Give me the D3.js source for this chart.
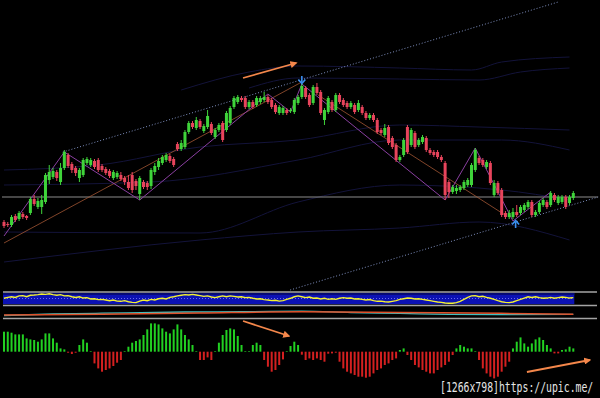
<!DOCTYPE html>
<html><head><meta charset="utf-8">
<script src="https://cdn.jsdelivr.net/npm/d3@7"></script>
<style>html,body{margin:0;padding:0;background:#000;overflow:hidden}</style>
</head><body>
<svg id="c" width="600" height="398"></svg>
<script>
// ---------- DATA ----------
// candles: [open, high, low, close]
const candles = [
[178,180,172,174],[176,178,173,175],[175,185,173,183],[184,186,178,180],[181,189,179,187],
[186,188,181,183],[184,185,180,182],[187,203,185,201],[201,205,194,196],[193,202,191,199],
[193,205,186,200],[198,227,196,225],[220,235,216,228],[223,232,221,229],[228,230,219,222],
[218,237,215,232],[232,250,230,248],[245,247,232,234],[236,238,227,230],[232,234,224,227],
[222,232,218,230],[225,242,223,240],[237,243,235,241],[235,242,233,240],[239,241,231,233],
[240,242,228,230],[234,236,228,230],[231,233,225,227],[229,231,222,224],[222,230,220,228],
[223,229,221,227],[225,228,219,221],[222,224,215,218],[218,225,210,212],[225,228,207,210],
[219,221,210,214],[206,224,200,222],[218,220,211,213],[217,219,210,213],[214,232,211,230],
[228,237,225,234],[233,242,230,239],[237,245,235,243],[240,247,238,245],[244,246,237,239],
[241,243,233,235],[256,258,249,251],[251,260,249,257],[253,270,251,268],[268,279,266,277],
[277,279,271,273],[272,283,270,280],[279,281,271,273],[269,276,267,274],[273,290,271,284],
[276,278,265,267],[263,272,261,270],[270,277,268,275],[277,279,258,260],[270,289,268,287],
[277,294,275,292],[293,304,291,302],[298,305,296,303],[302,304,298,300],[302,304,291,293],
[293,300,291,298],[298,300,291,293],[295,304,293,302],[298,304,296,302],[300,308,298,303],
[303,305,296,298],[300,302,291,293],[295,297,286,288],[287,295,285,293],[287,294,285,292],
[290,292,285,287],[289,292,287,290],[288,302,286,300],[297,305,295,303],[303,316,301,314],
[312,314,301,303],[305,307,293,295],[297,315,295,313],[313,317,305,307],[308,310,285,287],
[280,292,275,290],[288,304,286,302],[298,300,288,290],[290,307,288,305],[305,307,296,298],
[300,302,293,295],[297,299,291,293],[293,299,291,297],[295,297,286,288],[290,300,288,297],
[293,295,285,287],[287,289,280,282],[282,287,280,285],[285,287,278,280],[280,282,266,268],
[270,272,265,267],[265,276,263,272],[273,275,255,257],[262,264,251,253],[255,257,238,240],
[240,245,238,243],[245,262,243,260],[273,275,246,248],[255,272,253,270],[267,269,251,253],
[255,262,253,260],[258,265,256,263],[262,264,248,250],[250,252,245,247],[248,250,243,245],
[248,250,241,243],[243,245,238,240],[237,239,200,205],[218,220,202,208],[208,215,206,213],
[209,215,206,212],[210,215,208,213],[212,220,210,218],[215,222,213,220],[215,237,213,235],
[230,252,228,250],[242,244,235,237],[240,242,233,235],[233,240,231,238],[237,239,215,217],
[205,220,203,217],[217,219,205,207],[210,212,183,185],[187,189,181,183],[183,190,181,187],
[183,192,181,188],[188,195,183,185],[187,195,185,193],[190,197,188,195],[193,200,191,198],
[198,200,183,185],[185,190,183,188],[188,199,186,197],[195,202,193,200],[198,200,191,193],
[195,209,193,207],[205,207,198,200],[197,205,195,203],[198,205,196,203],[203,205,191,193],
[197,205,195,203],[202,209,200,207]
];

// oscillator histogram (one per candle)
const hist = [
20,20,19,17.3,17.3,17.3,13.3,12.3,11.7,10,12.3,18.3,18.3,13.3,9,3.3,2.3,-1,-2.3,-1,
6.7,12.3,9,0.3,-11.7,-16.7,-20,-18.3,-16.7,-14.3,-11,-8.3,0.3,5,9,10.7,12.3,16.7,22.3,28.3,
28.3,27.3,23.3,20,18.3,22.3,27.3,22.3,16.7,12.3,6.7,0.3,-8.3,-8.3,-5.7,-8.3,0.3,9,16.7,21.7,
23.3,22.3,15.7,6.7,0.5,0.3,6.7,9,6.7,-8.3,-15,-20,-18.3,-13.3,-7.7,0.3,5.7,10,6.7,-3,
-8.3,-6.7,-8.3,-6.7,-8.3,-10,-2,-1.7,-1,-10,-16.7,-20,-21.7,-23.3,-25,-25,-26,-25,-21.7,-18.3,
-16.7,-13.3,-11.7,-8.3,-6.7,1.7,3.3,-3.3,-8.3,-13.3,-15.7,-18.3,-20,-21.7,-21.7,-18.3,-15.7,-13.3,-10,-3.3,
3.3,6.7,5,3.3,3.3,0.3,-8.3,-16.7,-21.7,-25,-26.7,-25,-20,-15,-10,3.3,10,14.3,8.3,5,
8.3,12.3,14.3,11.7,6.7,3.3,-1.7,-1.7,1.7,2.3,5,3.3
];

// RSI-like line in the first sub panel
const rsi = [
51,55,58,55,62,63,58,65,66,68,71,69,72,68,65,68,62,63,58,55,
58,52,54,48,49,45,46,43,40,43,38,37,40,35,32,31,38,43,40,46,
43,49,51,48,55,58,62,65,68,66,69,66,63,60,62,57,54,58,62,58,
62,60,57,58,54,55,51,48,49,45,43,40,42,38,40,46,51,58,62,58,
54,57,51,52,48,51,46,49,46,51,54,51,52,48,49,46,43,45,40,37,
38,35,34,37,40,46,49,52,51,48,49,46,43,40,37,34,32,29,28,28,
31,37,46,55,62,63,58,60,55,51,46,40,35,32,31,34,40,46,52,58,
55,58,54,51,52,55,51,54,57,55,52,54
];

// second sub panel lines: [candle index, value]
const signalOrange = [[0,3],[26,3.7],[52,5],[79,6.2],[105,5.5],[132,4.7],[151,3.8]];
const signalCyan = [[0,2.5],[13,4],[26,4.8],[48,6],[63,6.3],[79,6.8],[92,5.5],[105,4.6],[118,3.6],[132,3.3],[151,3.7]];

// zigzag pivots [index, price]
const zigzag = [[0,164],[16,248],[36,200],[70,306],[76,288],[79,316],[117,200],[125,252],[135,179],[145,208]];
// orange trend lines
const trendA = [[0,157],[78.5,317]];
const trendB = [[83.3,305],[132.9,185]];
// dotted channel
const channelUpper = [[15.6,248],[147,398]];
const channelLower = [[75.9,110],[157.6,203]];
const levelPrice = 203;
// faint envelope lines [index, price]
const envelopes = [
 [[47,310],[65,328],[78,334],[105,332],[124,330],[132,338],[150,343]],
 [[65,312],[78,322],[105,321],[126,320],[137,328],[150,332]],
 [[0,230],[25,235],[52,253],[78,260],[105,275],[126,273],[150,270]],
 [[0,215],[39,218],[78,240],[105,260],[132,260],[150,250]],
 [[0,168],[52,167],[78,198],[105,215],[132,210],[150,200]],
 [[0,138],[52,160],[78,168],[105,172],[126,178],[150,160]]
];
// annotation arrows
const arrowTop = [[63.4,322],[77.5,337]];
const arrowHistA = [[63.4,30.7],[75.6,15.7]];
const arrowHistB = [[138.7,-20.3],[155.4,-8.3]];
const signalDown = {i:79};
const signalUp = {i:135.7};
const caption = "[1266x798]https://upic.me/";

// ---------- SCALES ----------
const svg = d3.select("#c");
svg.append("rect").attr("width",600).attr("height",398).attr("fill","#000");
const x = d3.scaleLinear().domain([0,151]).range([4,573.3]);
const y = d3.scaleLinear().domain([110,400]).range([290,0]);
const yR = d3.scaleLinear().domain([20,80]).range([305,292]);
const yS = d3.scaleLinear().domain([0,12]).range([318,306]);
const yH = d3.scaleLinear().domain([-30,30]).range([381.7,321.7]);

const defs = svg.append("defs");
defs.append("marker").attr("id","ah").attr("viewBox","0 0 10 10").attr("refX",8).attr("refY",5)
  .attr("markerWidth",4).attr("markerHeight",4).attr("orient","auto")
  .append("path").attr("d","M0,0L10,5L0,10z").attr("fill","#f4874b");

const line = (sy) => d3.line().x(d=>x(d[0])).y(d=>sy(d[1]));

// faint envelopes
envelopes.forEach(e=>{
  svg.append("path").attr("d",line(y).curve(d3.curveMonotoneX)(e))
    .attr("fill","none").attr("stroke","#13133a").attr("stroke-width",1);
});

// level line
svg.append("line").attr("x1",2).attr("x2",598).attr("y1",y(levelPrice)).attr("y2",y(levelPrice))
  .attr("stroke","#8c8c8c").attr("stroke-width",1.2);

// channel dotted
[channelUpper,channelLower].forEach(c=>{
  svg.append("path").attr("d",line(y)(c)).attr("fill","none")
    .attr("stroke","#7f8fbf").attr("stroke-width",1).attr("stroke-dasharray","1,2");
});

// orange trend lines
[trendA,trendB].forEach(t=>{
  svg.append("path").attr("d",line(y)(t)).attr("fill","none")
    .attr("stroke","#a85a36").attr("stroke-width",0.9).attr("opacity",0.85);
});
// zigzag
svg.append("path").attr("d",line(y)(zigzag)).attr("fill","none")
  .attr("stroke","#8a3fa0").attr("stroke-width",1);

// candles
const green="#3fd43a", red="#e8445c";
const cg = svg.append("g");
cg.selectAll("line").data(candles).join("line")
  .attr("x1",(d,i)=>x(i)).attr("x2",(d,i)=>x(i))
  .attr("y1",d=>y(d[1])).attr("y2",d=>y(d[2]))
  .attr("stroke",d=>d[3]>=d[0]?green:red).attr("stroke-width",1);
cg.selectAll("rect").data(candles).join("rect")
  .attr("x",(d,i)=>x(i)-1.5).attr("width",3)
  .attr("y",d=>y(Math.max(d[0],d[3])))
  .attr("height",d=>Math.max(1,Math.abs(y(d[0])-y(d[3]))))
  .attr("fill",d=>d[3]>=d[0]?green:red);

// orange arrows
[[arrowTop,y],[arrowHistA,yH],[arrowHistB,yH]].forEach(([a,sy])=>{
  svg.append("path").attr("d",line(sy)(a)).attr("fill","none")
    .attr("stroke","#f4874b").attr("stroke-width",1.8).attr("marker-end","url(#ah)");
});

// blue arrows
const blue="#3a90f0";
{
  const cx=x(signalDown.i), top=y(candles[signalDown.i][1])-8;
  svg.append("path").attr("d",`M${cx},${top}V${top+6}`).attr("stroke",blue).attr("stroke-width",1.6);
  svg.append("path").attr("d",`M${cx-3.5},${top+3.5}L${cx},${top+7.5}L${cx+3.5},${top+3.5}`).attr("stroke",blue).attr("stroke-width",1.6).attr("fill","none");
  const ux=x(signalUp.i), bot=y(candles[135][2])+9;
  svg.append("path").attr("d",`M${ux},${bot}V${bot-6}`).attr("stroke",blue).attr("stroke-width",1.6);
  svg.append("path").attr("d",`M${ux-3.5},${bot-3.5}L${ux},${bot-7.5}L${ux+3.5},${bot-3.5}`).attr("stroke",blue).attr("stroke-width",1.6).attr("fill","none");
}

// sub panel 1
svg.append("rect").attr("x",x(0)-1).attr("width",x(151)-x(0)+2)
  .attr("y",yR(76)).attr("height",yR(24)-yR(76)).attr("fill","#0c12b4");
svg.append("rect").attr("x",x(0)-1).attr("width",x(151)-x(0)+2)
  .attr("y",yR(76)).attr("height",2).attr("fill","#060a70");
svg.append("line").attr("x1",x(0)).attr("x2",x(151)).attr("y1",yR(50)).attr("y2",yR(50))
  .attr("stroke","#8080ff").attr("stroke-dasharray","1,2").attr("stroke-width",0.8);
svg.append("path").attr("d",d3.line().x((d,i)=>x(i)).y(d=>yR(d))(rsi))
  .attr("fill","none").attr("stroke","#f4f230").attr("stroke-width",1.4);

// sub panel 2
svg.append("path").attr("d",line(yS).curve(d3.curveMonotoneX)(signalCyan))
  .attr("fill","none").attr("stroke","#40c0c0").attr("stroke-width",1.3);
svg.append("path").attr("d",line(yS).curve(d3.curveMonotoneX)(signalOrange))
  .attr("fill","none").attr("stroke","#e0502a").attr("stroke-width",1.5);

// panel borders
[292,305.5,318.5].forEach(v=>{
  svg.append("line").attr("x1",3).attr("x2",597).attr("y1",v).attr("y2",v)
    .attr("stroke","#a4a4a4").attr("stroke-width",1.5);
});

// histogram
svg.append("g").selectAll("rect").data(hist).join("rect")
  .attr("x",(d,i)=>x(i)-1).attr("width",2)
  .attr("y",d=>yH(Math.max(0,d))).attr("height",d=>Math.max(0.6,Math.abs(yH(d)-yH(0))))
  .attr("fill",d=>d>=0?"#22d022":"#d42020");

// caption (narrow monospace, stretched vertically)
svg.append("g").attr("transform","translate(440,392) scale(1,1.4)")
  .append("text").attr("x",0).attr("y",0).text(caption)
  .attr("font-family","DejaVu Sans Mono").attr("font-size",9.8)
  .attr("fill","#e6e6e6");
</script>
</body></html>
